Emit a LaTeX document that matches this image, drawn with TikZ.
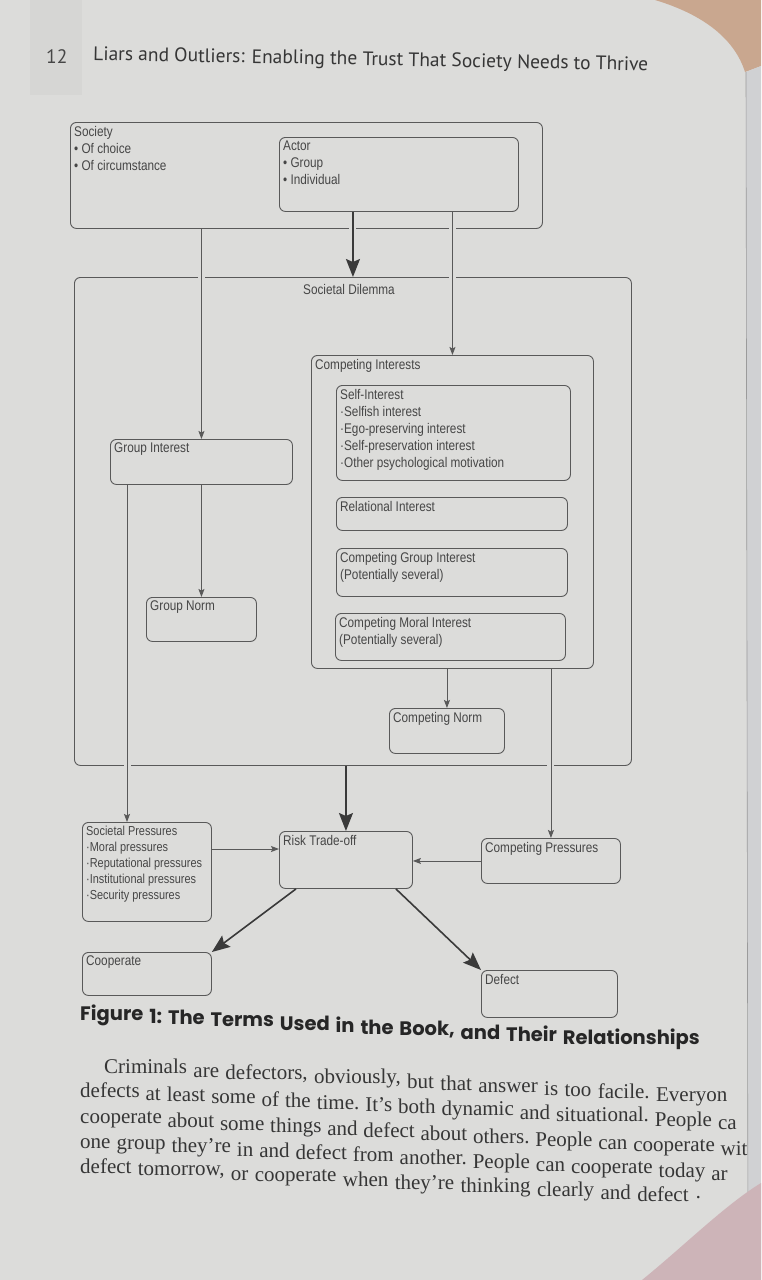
\documentclass[tikz,border=0pt]{standalone}
\usepackage{fontspec}
\setmainfont{Liberation Serif}
\newfontfamily\diagfont[FakeStretch=0.84]{Liberation Sans}
\newfontfamily\headfont{PT Sans}
\newfontfamily\capfont{Poppins}
\usetikzlibrary{arrows.meta,positioning,calc}
\definecolor{page}{HTML}{DCDCDA}
\definecolor{pageshade}{HTML}{D6D6D4}
\definecolor{nextpage}{HTML}{D0D1D3}
\definecolor{tanbg}{HTML}{C9A78F}
\definecolor{finger}{HTML}{CDB4B8}
\definecolor{boxline}{HTML}{595959}
\definecolor{darkline}{HTML}{3A3A3A}
\definecolor{ink}{HTML}{464646}
\definecolor{bodyink}{HTML}{363636}
\tikzset{
  box/.style={draw=boxline,line width=0.9pt,rounded corners=6pt,anchor=north west,inner sep=0pt},
  boxtext/.style={anchor=north west,inner xsep=4pt,inner ysep=4pt,align=left,text=ink,
    font=\diagfont\fontsize{14}{17}\selectfont},
  thin/.style={draw=boxline,line width=0.9pt,-{Stealth[length=8pt,width=6pt,inset=1.5pt]}},
  thick/.style={draw=darkline,line width=1.6pt,-{Stealth[length=18pt,width=14pt,inset=3pt]}},
  bridge/.style={preaction={draw=page,line width=7pt,-,shorten <=6pt,shorten >=6pt}},
  bodyword/.style={anchor=base west,inner sep=0pt,text=bodyink,font=\fontsize{21}{25}\selectfont},
  capword/.style={anchor=base west,inner sep=0pt,text=black!85,font=\capfont\bfseries\fontsize{19.5}{22}\selectfont}
}
\newcommand{\tbox}[7][]{%
  \node[box,minimum width=#5pt,minimum height=#6pt] (#2) at (#3,#4) {};
  \node[boxtext,#1] (#2-t) at (#2.north west) {#7};}
\newcommand{\wordline}[7]{%
  \foreach \w [count=\i, remember=\i as \j (initially 0)] in {#7} {
    \ifnum\i=1
      \node[#4] (#1-\i) at (#2,#3) {\w};
    \else
      \path let \p1=(#1-\j.base west), \p2=(#1-\j.base east) in
        node[#4] (#1-\i) at (\x2+#5pt, {\y2-#6*(\x2-\x1+#5pt)}) {\w};
    \fi}}

\begin{document}
\begin{tikzpicture}[x=1pt,y=-1pt]
  \useasboundingbox (0,0) rectangle (761,1280);
  \fill[page] (0,0) rectangle (761,1280);
  \fill[pageshade] (30,0) rectangle (82,95);
  \fill[tanbg] (655,0) .. controls (705,15) and (735,40) .. (745,72) -- (761,66) -- (761,0) -- cycle;
  \fill[nextpage] (746,72) -- (761,66) -- (761,1280) -- (748,1280) -- cycle;
  \draw[boxline!60,line width=0.6pt] (746,72) -- (748,1280);
  \fill[finger] (642,1280) .. controls (685,1245) and (725,1205) .. (761,1183) -- (761,1280) -- cycle;

  \node[anchor=base west,inner sep=0pt,text=ink,font=\headfont\fontsize{19.5}{22}\selectfont] (pagenum) at (46,63) {12};
  \node[anchor=base west,inner sep=0pt,rotate=-1.1,text=bodyink,font=\headfont\fontsize{19.5}{22}\selectfont] (runhead) at (93,60)
    {Liars and Outliers: Enabling the Trust That Society Needs to Thrive};

  \tbox{society}{70}{122}{472}{106}{Society\\• Of choice\\• Of circumstance}
  \tbox{actor}{279}{137}{239}{74}{Actor\\• Group\\• Individual}
  \tbox{dilemma}{74}{277}{557}{488}{}
  \node[boxtext,anchor=north] (dilemma-title) at ([xshift=-4pt,yshift=-3pt]dilemma.north) {Societal Dilemma};
  \tbox{compint}{311}{355}{282}{313}{Competing Interests}
  \tbox{selfint}{336}{385}{234}{95}{Self-Interest\\·Selfish interest\\·Ego-preserving interest\\·Self-preservation interest\\·Other psychological motivation}
  \tbox{relint}{336}{497}{231}{33}{Relational Interest}
  \tbox{compgroup}{336}{548}{231}{48}{Competing Group Interest\\(Potentially several)}
  \tbox{compmoral}{335}{613}{230}{47}{Competing Moral Interest\\(Potentially several)}
  \tbox{compnorm}{389}{708}{115}{45}{Competing Norm}
  \tbox{groupint}{110}{439}{182}{45}{Group Interest}
  \tbox{groupnorm}{146}{597}{110}{44}{Group Norm}
  \tbox[font=\diagfont\fontsize{13}{16}\selectfont]{socpress}{82}{822}{129}{99}{Societal Pressures\\·Moral pressures\\·Reputational pressures\\·Institutional pressures\\·Security pressures}
  \tbox{risk}{279}{831}{133}{57}{Risk Trade-off}
  \tbox{comppress}{481}{838}{139}{45}{Competing Pressures}
  \tbox{cooperate}{82}{952}{129}{43}{Cooperate}
  \tbox{defect}{481}{970}{136}{47}{Defect}

  \draw[thick,bridge] (actor.south -| dilemma.north) -- (dilemma.north);
  \draw[thin,bridge] (society.south -| groupint.north) -- (groupint.north);
  \draw[thin,bridge] (actor.south -| compint.north) -- (compint.north);
  \draw[thin] (groupint.south) -- (groupnorm.north);
  \draw[thin] (compint.south -| compnorm.north) -- (compnorm.north);
  \draw[thin,bridge] (compint.south -| comppress.north) -- (comppress.north);
  \draw[thin,bridge] ([xshift=17pt]groupint.south west) -- ([xshift=17pt]groupint.south west |- socpress.north);
  \draw[thick] (dilemma.south -| risk.north) -- (risk.north);
  \draw[thin] ([yshift=-27pt]socpress.north east) -- ([yshift=-27pt]socpress.north east -| risk.west);
  \draw[thin] (comppress.west) -- (comppress.west -| risk.east);
  \draw[thick] ([xshift=17pt]risk.south west) -- (cooperate.north east);
  \draw[thick] ([xshift=-17pt]risk.south east) -- (defect.north west);

  \wordline{caption}{80}{1020}{capword}{5.5}{0.05}{Figure,{1:},The,Terms,Used,in,the,{Book,},and,Their,Relationships}

  \wordline{lineA}{104}{1073}{bodyword}{6}{0.051}{Criminals,are,{defectors,},{obviously,},but,that,answer,is,too,{facile.},Everyon}
  \wordline{lineB}{80}{1097}{bodyword}{5.6}{0.051}{defects,at,least,some,of,the,{time.},It’s,both,dynamic,and,{situational.},People,ca}
  \wordline{lineC}{80}{1123}{bodyword}{5.4}{0.051}{cooperate,about,some,things,and,defect,about,{others.},People,can,cooperate,wit}
  \wordline{lineD}{80}{1148}{bodyword}{5.6}{0.051}{one,group,they’re,in,and,defect,from,{another.},People,can,cooperate,today,ar}
  \wordline{lineE}{80}{1173}{bodyword}{6}{0.051}{defect,{tomorrow,},or,cooperate,when,they’re,thinking,clearly,and,defect,·}
\end{tikzpicture}
\end{document}
